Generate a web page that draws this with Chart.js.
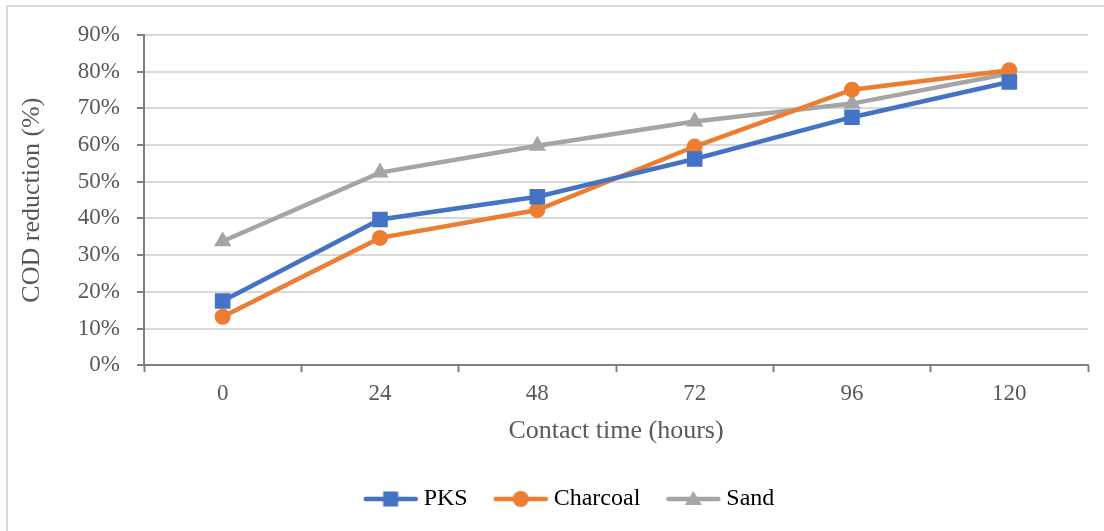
<!DOCTYPE html>
<html>
<head>
<meta charset="utf-8">
<script src="https://cdn.jsdelivr.net/npm/chart.js@4/dist/chart.umd.min.js"></script>
<style>
  html, body { margin: 0; padding: 0; background: #fff; overflow: hidden; }
  .frame {
    position: absolute; left: 6px; top: 5px; width: 1200px; height: 600px;
    border-left: 2px solid #d9d9d9; border-top: 2px solid #d9d9d9;
  }
  .wrap { position: absolute; left: 0; top: 0; width: 1104px; height: 531px; }
</style>
</head>
<body>
<div class="frame"></div>
<div class="wrap"><canvas id="cod"></canvas></div>
<script>
  // Contact time (hours) on the x axis
  const hours = ['0', '24', '48', '72', '96', '120'];

  // COD reduction in %, one series per filter medium
  const pksValues = [17.5, 39.7, 45.9, 56.2, 67.6, 77.2];
  const charcoalValues = [13.2, 34.7, 42.3, 59.6, 75.1, 80.4];
  const sandValues = [33.8, 52.5, 59.8, 66.4, 71.3, 79.5];

  const FONT = '"Liberation Serif", "Times New Roman", serif';
  const TEXT = '#595959';
  const AXIS = '#7f7f7f';

  Chart.defaults.font.family = FONT;
  Chart.defaults.color = TEXT;

  // legend swatch: short line with the series marker in the middle
  function legendIcon(color, shape) {
    const c = document.createElement('canvas');
    c.width = 56; c.height = 18;
    const g = c.getContext('2d');
    g.strokeStyle = color; g.fillStyle = color;
    g.lineWidth = 4.5; g.lineCap = 'round';
    g.beginPath(); g.moveTo(3, 9); g.lineTo(53, 9); g.stroke();
    g.beginPath();
    if (shape === 'rect') g.rect(20.5, 1.5, 15, 15);
    else if (shape === 'circle') g.arc(28, 9, 8, 0, Math.PI * 2);
    else { g.moveTo(28, 1); g.lineTo(36.5, 15); g.lineTo(19.5, 15); g.closePath(); }
    g.fill();
    return c;
  }

  // legend row sits a little right of the chart's centre line
  const legendShift = {
    id: 'legendShift',
    afterLayout(chart) {
      chart.legend.left += 25;
      chart.legend.right += 25;
    },
  };

  const series = [
    { label: 'PKS', data: pksValues, color: '#4472c4', style: 'rect', radius: 11 },
    { label: 'Charcoal', data: charcoalValues, color: '#ed7d31', style: 'circle', radius: 8 },
    { label: 'Sand', data: sandValues, color: '#a5a5a5', style: 'triangle', radius: 10 },
  ];

  new Chart(document.getElementById('cod'), {
    type: 'line',
    plugins: [legendShift],
    data: {
      labels: hours,
      datasets: series.map((s) => ({
        label: s.label,
        data: s.data,
        borderColor: s.color,
        backgroundColor: s.color,
        borderWidth: 4.5,
        pointStyle: s.style,
        pointRadius: s.radius,
        pointBorderWidth: 0,
        tension: 0,
        icon: legendIcon(s.color, s.style),
      })),
    },
    options: {
      responsive: true,
      maintainAspectRatio: false,
      animation: false,
      layout: { padding: { top: 35, right: 16, bottom: 10, left: 6 } },
      plugins: {
        tooltip: { enabled: false },
        legend: {
          position: 'bottom',
          labels: {
            usePointStyle: true,
            pointStyleWidth: 42,
            boxHeight: 18,
            padding: 32,
            color: TEXT,
            font: { size: 24, family: FONT },
            generateLabels: (chart) => chart.data.datasets.map((ds, i) => ({
              text: ds.label,
              pointStyle: ds.icon,
              fillStyle: ds.borderColor,
              strokeStyle: ds.borderColor,
              lineWidth: 0,
              datasetIndex: i,
              hidden: false,
            })),
          },
        },
      },
      scales: {
        x: {
          offset: true,
          grid: {
            offset: true,
            drawOnChartArea: false,
            tickLength: 7,
            tickColor: AXIS,
            tickWidth: 2,
          },
          border: { color: AXIS, width: 2 },
          ticks: { padding: 8, color: TEXT, font: { size: 23 } },
          title: {
            display: true,
            text: 'Contact time (hours)',
            color: TEXT,
            font: { size: 26 },
            padding: { top: 0, bottom: 8 },
          },
        },
        y: {
          min: 0,
          max: 90,
          afterFit: (scale) => { scale.width = 138; },
          grid: {
            color: '#d9d9d9',
            lineWidth: 2,
            tickLength: 7,
            tickColor: AXIS,
            tickWidth: 2,
          },
          border: { color: AXIS, width: 2 },
          ticks: {
            stepSize: 10,
            padding: 17,
            color: TEXT,
            font: { size: 23 },
            callback: (v) => v + '%',
          },
          title: {
            display: true,
            text: 'COD reduction (%)',
            color: TEXT,
            font: { size: 26 },
            padding: { top: 11, bottom: 0 },
          },
        },
      },
    },
  });
</script>
</body>
</html>
